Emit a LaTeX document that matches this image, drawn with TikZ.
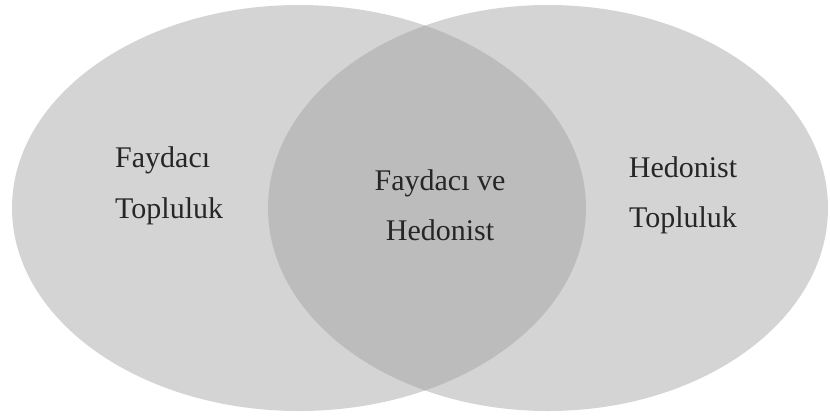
\documentclass[tikz,border=0pt]{standalone}
\usepackage{fontspec}
\setmainfont{Liberation Serif}
\definecolor{setgray}{HTML}{D4D4D4}
\definecolor{overlapgray}{HTML}{BCBCBC}
\begin{document}
\begin{tikzpicture}[x=1pt,y=-1pt,
  label/.style={font=\fontsize{30}{36}\selectfont, inner sep=0pt, text=black!85}]
\useasboundingbox (0,0) rectangle (830,416);
% the two sets
\fill[setgray] (299,208) ellipse [x radius=287, y radius=203];
\fill[setgray] (548,208) ellipse [x radius=280, y radius=203];
% their intersection
\begin{scope}
  \clip (299,208) ellipse [x radius=287, y radius=203];
  \fill[overlapgray] (548,208) ellipse [x radius=280, y radius=203];
\end{scope}
% left set
\node[label, anchor=base west] (l1) at (115,167) {Faydacı};
\node[label, anchor=base west] (l2) at (115,218) {Topluluk};
% intersection
\node[label, anchor=base] (c1) at (440,190) {Faydacı ve};
\node[label, anchor=base] (c2) at (440,240) {Hedonist};
% right set
\node[label, anchor=base] (r1) at (683,177) {Hedonist};
\node[label, anchor=base] (r2) at (683,227) {Topluluk};
\end{tikzpicture}
\end{document}
